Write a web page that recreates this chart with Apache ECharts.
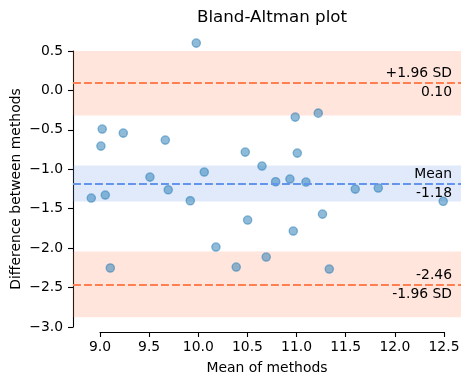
<!DOCTYPE html>
<html><head><meta charset="utf-8">
<script src="https://cdn.jsdelivr.net/npm/echarts@6/dist/echarts.min.js"></script>
<style>html,body{margin:0;padding:0;background:#fff}#c{width:470px;height:385px}</style>
</head><body><div id="c"></div><script>
// Data
const meansOfMethods = [8.912, 9.023, 9.010, 9.054, 9.105, 9.237, 9.508, 9.664, 9.694, 9.918,
  9.979, 10.060, 10.179, 10.385, 10.477, 10.501, 10.647, 10.690, 10.786, 10.931,
  10.965, 10.985, 11.006, 11.094, 11.219, 11.262, 11.331, 11.595, 11.829, 12.489];
const differences = [-1.365, -0.490, -0.706, -1.327, -2.252, -0.541, -1.099, -0.630, -1.260, -1.399,
  0.600, -1.035, -1.986, -2.240, -0.782, -1.644, -0.959, -2.113, -1.158, -1.124,
  -1.783, -0.338, -0.795, -1.162, -0.288, -1.568, -2.265, -1.251, -1.238, -1.406];
const meanDiff = -1.18;
const upperLoA = 0.10;
const lowerLoA = -2.46;
const upperBand = [0.517, -0.317];
const meanBand = [-0.952, -1.408];
const lowerBand = [-2.043, -2.877];
const upperLabels = ['+1.96 SD', '0.10'];
const meanLabels = ['Mean', '-1.18'];
const lowerLabels = ['-2.46', '-1.96 SD'];

const FONT = 'DejaVu Sans';
const FS = 13.9;
const points = meansOfMethods.map((m, i) => [m, differences[i]]);
const fmt = v => v.toFixed(1).replace('-', '\u2212');

const lbl = (text, pos) => ({
  show: true, position: pos, formatter: text, color: '#000',
  fontFamily: FONT, fontSize: FS, distance: [9, 2.5]
});
const limitLine = (y, color, labels) => [
  { yAxis: y, lineStyle: { color }, label: lbl(labels[0], 'insideEndTop') },
  { yAxis: y, lineStyle: { color }, label: lbl(labels[1], 'insideEndBottom') }
];

const chart = echarts.init(document.getElementById('c'), null, { renderer: 'canvas' });
chart.setOption({
  backgroundColor: '#fff',
  animation: false,
  title: {
    text: 'Bland-Altman plot', left: 267, top: 4, textAlign: 'center',
    textStyle: { fontFamily: FONT, fontSize: 16.7, fontWeight: 'normal', color: '#000' }
  },
  grid: [
    { left: 73, right: 9, top: 51, bottom: 58, containLabel: false, outerBoundsMode: 'none' },
    { left: 100, right: 26, top: 51, bottom: 53, containLabel: false, outerBoundsMode: 'none' }
  ],
  xAxis: [
    {
      gridIndex: 0, type: 'value', min: 8.726, max: 12.67,
      axisLine: { show: false, onZero: false }, axisTick: { show: false }, axisLabel: { show: false },
      splitLine: { show: false },
      name: 'Mean of methods', nameLocation: 'middle', nameGap: 34, nameMoveOverlap: false,
      nameTextStyle: { fontFamily: FONT, fontSize: FS, color: '#000' }
    },
    {
      gridIndex: 1, type: 'value', min: 9, max: 12.5, interval: 0.5, position: 'bottom',
      axisLine: { show: true, onZero: false, lineStyle: { color: '#000', width: 1.1 } },
      axisTick: { show: true, length: 5, lineStyle: { color: '#000', width: 1.1 } },
      axisLabel: { formatter: fmt, margin: 8, color: '#000', fontFamily: FONT, fontSize: FS },
      splitLine: { show: false }
    }
  ],
  yAxis: [
    {
      gridIndex: 0, type: 'value', min: -3, max: 0.5, interval: 0.5,
      axisLine: { show: true, onZero: false, lineStyle: { color: '#000', width: 1.1 } },
      axisTick: { show: true, length: 5, lineStyle: { color: '#000', width: 1.1 } },
      axisLabel: { formatter: fmt, margin: 10, color: '#000', fontFamily: FONT, fontSize: FS },
      splitLine: { show: false },
      name: 'Difference between methods', nameLocation: 'middle', nameGap: 50, nameMoveOverlap: false,
      nameTextStyle: { fontFamily: FONT, fontSize: FS, color: '#000' }
    },
    { gridIndex: 1, type: 'value', show: false, min: -3, max: 0.5 }
  ],
  series: [
    {
      type: 'line', xAxisIndex: 0, yAxisIndex: 0, data: [], z: 1, silent: true,
      markArea: {
        silent: true,
        data: [
          [{ yAxis: upperBand[0], itemStyle: { color: 'rgba(255,127,80,0.2)' } }, { yAxis: upperBand[1] }],
          [{ yAxis: meanBand[0], itemStyle: { color: 'rgba(100,149,237,0.2)' } }, { yAxis: meanBand[1] }],
          [{ yAxis: lowerBand[0], itemStyle: { color: 'rgba(255,127,80,0.2)' } }, { yAxis: lowerBand[1] }]
        ]
      }
    },
    {
      type: 'scatter', xAxisIndex: 0, yAxisIndex: 0, data: points, z: 3, clip: false,
      symbol: 'circle', symbolSize: 8.3,
      itemStyle: { color: 'rgba(31,119,180,0.5)', borderColor: 'rgba(31,119,180,0.5)', borderWidth: 1.3, opacity: 1 }
    },
    {
      type: 'line', xAxisIndex: 0, yAxisIndex: 0, data: [], z: 2, silent: true,
      markLine: {
        silent: true, symbol: ['none', 'none'],
        lineStyle: { type: [7.7, 3.3], width: 2.1 },
        data: [
          ...limitLine(upperLoA, '#FF7F50', upperLabels),
          ...limitLine(meanDiff, '#6495ED', meanLabels),
          ...limitLine(lowerLoA, '#FF7F50', lowerLabels)
        ]
      }
    }
  ]
});
</script></body></html>
